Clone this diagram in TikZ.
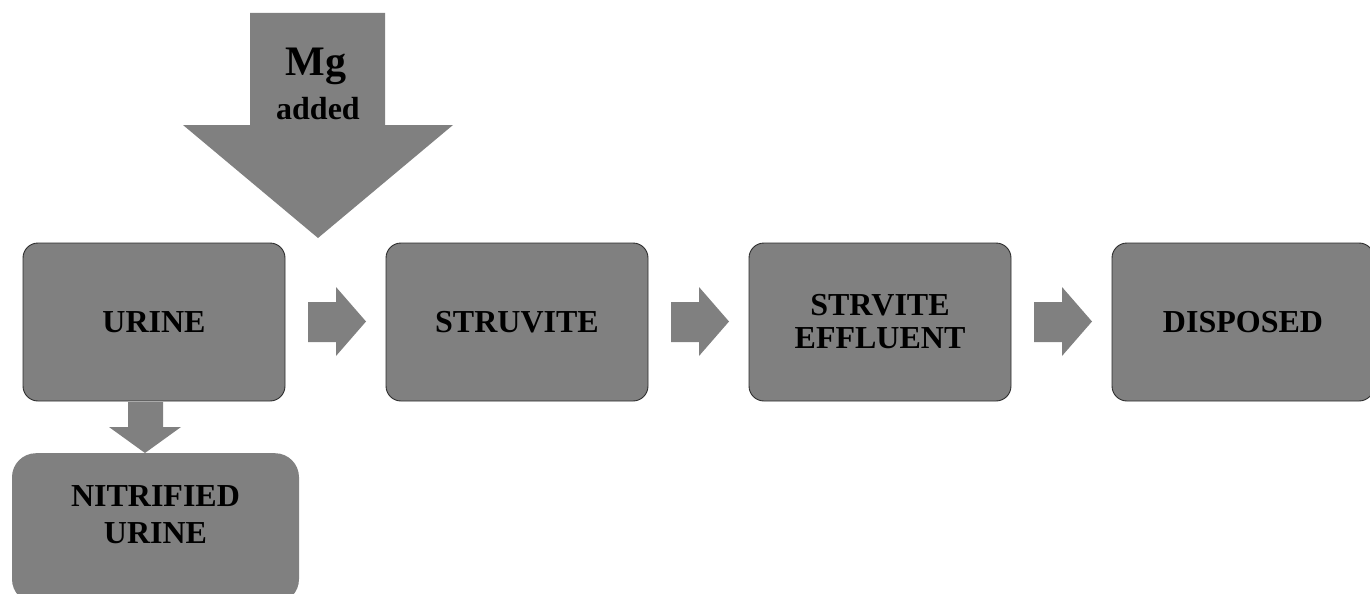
\documentclass[tikz,border=0pt]{standalone}
\usepackage{fontspec}
\setmainfont{Liberation Serif}
\definecolor{boxgray}{RGB}{128,128,128}
\definecolor{edgegray}{RGB}{45,45,45}
\tikzset{
  procbox/.style={draw=edgegray, line width=0.9pt, fill=boxgray, rounded corners=15pt,
    minimum width=262pt, minimum height=158pt, inner sep=0pt, align=center,
    font=\bfseries\fontsize{32}{33}\selectfont},
  endbox/.style={fill=boxgray, rounded corners=24pt,
    minimum width=287pt, minimum height=150pt, inner sep=0pt, align=center},
  blockarrow/.style={fill=boxgray, draw=none},
  lbl/.style={inner sep=0pt, align=center}
}
\begin{document}
\begin{tikzpicture}[x=1pt,y=-1pt]
\useasboundingbox (0,0) rectangle (1370,594);
\clip (0,0) rectangle (1370,594);
% boxes
\node[procbox] (urine) at (154,322) {URINE};
\node[procbox] (struvite) at (517,322) {STRUVITE};
\node[procbox] (effluent) at (880,322) {STRVITE\\EFFLUENT};
\node[procbox] (disposed) at (1243,322) {DISPOSED};
\node[endbox, anchor=north] (nitrified) at (155.5,453) {};
\node[lbl, font=\bfseries\fontsize{32}{37}\selectfont] (nitlbl) at (155.5,515) {NITRIFIED\\URINE};
% right block arrows
\foreach \dx in {0,363,726}{
  \fill[blockarrow] (308+\dx,302) -- (336+\dx,302) -- (336+\dx,287) -- (366+\dx,321.5)
    -- (336+\dx,356) -- (336+\dx,342) -- (308+\dx,342) -- cycle;
}
% down arrow urine -> nitrified
\fill[blockarrow] (128,402) -- (163,402) -- (163,427) -- (181,427) -- (145,453)
  -- (109,427) -- (128,427) -- cycle;
% Mg added arrow
\fill[blockarrow] (250,13) -- (385,13) -- (385,125) -- (453,125) -- (318,238)
  -- (183,125) -- (250,125) -- cycle;
\node[lbl, font=\bfseries\fontsize{42}{42}\selectfont] (mg) at (316,66) {Mg};
\node[lbl, font=\bfseries\fontsize{32}{32}\selectfont] (added) at (318,109) {added};
\end{tikzpicture}
\end{document}
